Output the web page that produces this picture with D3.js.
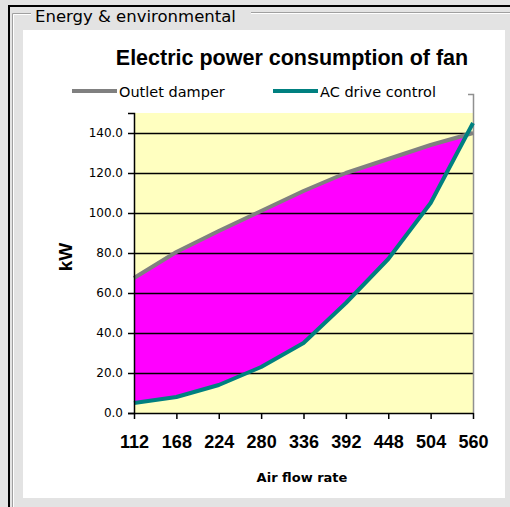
<!DOCTYPE html>
<html>
<head>
<meta charset="utf-8">
<script src="https://cdn.jsdelivr.net/npm/d3@7"></script>
<style>
  html, body { margin: 0; padding: 0; background: #e3e3e3; }
  svg { display: block; }
</style>
</head>
<body>
<svg id="chart" width="510" height="507"></svg>
<script>
// Air flow rate categories and fan power (kW) for the two control methods
const airFlow = [112, 168, 224, 280, 336, 392, 448, 504, 560];
const outletDamper = [67.5, 80.5, 91, 101, 111, 120, 127, 134, 140];
const acDriveControl = [5, 8, 14, 23, 35, 55, 77, 105, 145];
const kwTicks = [0, 20, 40, 60, 80, 100, 120, 140];

const seriesNames = ["Outlet damper", "AC drive control"];
const seriesColors = ["#808080", "#008080"];

const svg = d3.select("#chart");

// Window frame and group box
svg.append("rect").attr("x", 0).attr("y", 0).attr("width", 510).attr("height", 507).attr("fill", "#e3e3e3");
svg.append("path").attr("d", "M9,507V6H510").attr("fill", "none").attr("stroke", "#000").attr("stroke-width", 2);
svg.append("path").attr("d", "M12.5,507V13.5H31M251,12.5H510").attr("fill", "none").attr("stroke", "#a0a0a0").attr("stroke-width", 1);
svg.append("path").attr("d", "M13.5,507V14.5H31M251,13.5H510").attr("fill", "none").attr("stroke", "#ffffff").attr("stroke-width", 1);
svg.append("text").attr("x", 35).attr("y", 22)
  .attr("font-family", "DejaVu Sans").attr("font-size", 16.5).attr("fill", "#000")
  .text("Energy & environmental");

// White chart panel
svg.append("rect").attr("x", 23).attr("y", 30).attr("width", 482).attr("height", 468).attr("fill", "#ffffff");

// Title
svg.append("text").attr("x", 292).attr("y", 65).attr("text-anchor", "middle")
  .attr("font-family", "Liberation Sans, Arial, sans-serif").attr("font-weight", "bold")
  .attr("font-size", 21.5).attr("fill", "#000")
  .text("Electric power consumption of fan");

// Scales
const x = d3.scaleLinear().domain([112, 560]).range([134, 473]);
const y = d3.scaleLinear().domain([0, 150]).range([413, 113]);

// Plot area background
svg.append("rect").attr("x", x(112)).attr("y", y(150)).attr("width", x(560) - x(112)).attr("height", y(0) - y(150))
  .attr("fill", "#ffffc0");

// Filled area under the damper curve, then the area under the drive curve in the plot colour
const idx = d3.range(airFlow.length);
svg.append("path").datum(idx)
  .attr("d", d3.area().x(i => x(airFlow[i])).y0(y(0)).y1(i => y(outletDamper[i])))
  .attr("fill", "#ff00ff");
svg.append("path").datum(idx)
  .attr("d", d3.area().x(i => x(airFlow[i])).y0(y(0)).y1(i => y(acDriveControl[i])))
  .attr("fill", "#ffffc0");

// Horizontal gridlines
svg.append("g").selectAll("line").data(kwTicks.filter(d => d > 0)).join("line")
  .attr("x1", x(112)).attr("x2", x(560))
  .attr("y1", d => Math.round(y(d)) + 0.5).attr("y2", d => Math.round(y(d)) + 0.5)
  .attr("stroke", "#000").attr("stroke-width", 1.4);

// Right border of the plot area
svg.append("path").attr("d", `M468,94.5H473.5V${y(0)}`).attr("fill", "none").attr("stroke", "#909090").attr("stroke-width", 1.5);

// Series lines
const lineGen = vals => d3.line().x(i => x(airFlow[i])).y(i => y(vals[i]));
[outletDamper, acDriveControl].forEach((vals, k) => {
  svg.append("path").datum(idx).attr("d", lineGen(vals))
    .attr("fill", "none").attr("stroke", seriesColors[k]).attr("stroke-width", 4)
    .attr("stroke-linejoin", "round");
});

// Y axis
const yAxis = svg.append("g").attr("transform", `translate(${x(112)},0)`)
  .call(d3.axisLeft(y).tickValues(kwTicks).tickFormat(d3.format(".1f")).tickSize(6).tickPadding(5));
yAxis.selectAll("text").attr("font-family", "DejaVu Sans").attr("font-size", 12).attr("fill", "#000");
yAxis.selectAll("line, path").attr("stroke", "#000").attr("stroke-width", 1.5);

// X axis
const xAxis = svg.append("g").attr("transform", `translate(0,${y(0)})`)
  .call(d3.axisBottom(x).tickValues(airFlow).tickFormat(d3.format("d")).tickSize(6).tickPadding(16).tickSizeOuter(0));
xAxis.selectAll("text").attr("font-family", "Liberation Sans, Arial, sans-serif").attr("font-weight", "bold")
  .attr("font-size", 18).attr("fill", "#000");
xAxis.selectAll("line, path").attr("stroke", "#000").attr("stroke-width", 1.5);

// Axis titles
svg.append("text").attr("transform", "translate(72,257) rotate(-90)").attr("text-anchor", "middle")
  .attr("font-family", "Liberation Sans, Arial, sans-serif").attr("font-weight", "bold").attr("font-size", 19)
  .attr("fill", "#000").text("kW");
svg.append("text").attr("x", 302).attr("y", 482).attr("text-anchor", "middle")
  .attr("font-family", "DejaVu Sans").attr("font-weight", "bold").attr("font-size", 13)
  .attr("fill", "#000").text("Air flow rate");

// Legend
const legendX = [72, 273];
seriesNames.forEach((name, k) => {
  svg.append("line").attr("x1", legendX[k]).attr("x2", legendX[k] + 45).attr("y1", 91).attr("y2", 91)
    .attr("stroke", seriesColors[k]).attr("stroke-width", 4);
  svg.append("text").attr("x", legendX[k] + 47).attr("y", 97)
    .attr("font-family", "DejaVu Sans").attr("font-size", 14.5).attr("fill", "#000").text(name);
});
</script>
</body>
</html>
